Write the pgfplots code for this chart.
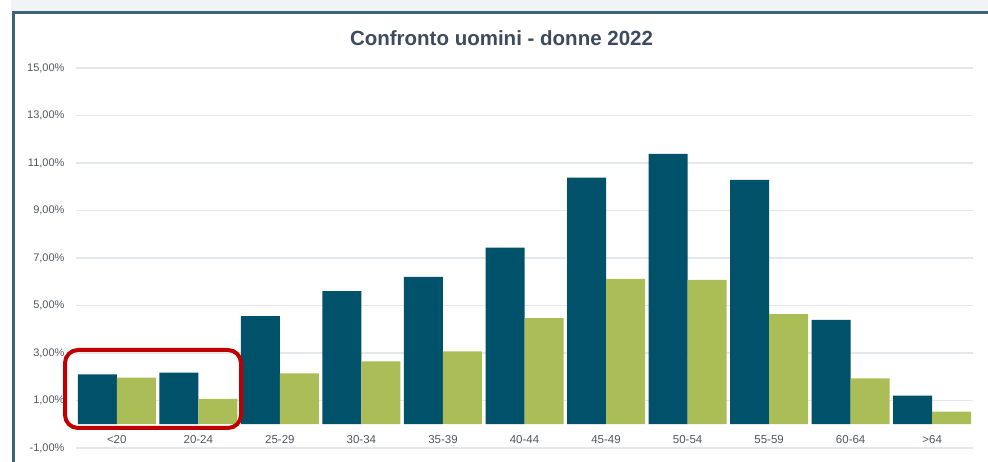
\documentclass[border=0pt]{standalone}
\usepackage{fontspec}
\setmainfont{Liberation Sans}
\usepackage{pgfplots}
\pgfplotsset{compat=1.18}

\definecolor{uomini}{HTML}{00516A}
\definecolor{donne}{HTML}{AABD56}
\definecolor{gridc}{HTML}{E4E7EB}
\definecolor{titlec}{HTML}{3E4A5E}
\definecolor{tickc}{HTML}{52575E}
\definecolor{framec}{HTML}{3B6479}
\definecolor{stripc}{HTML}{F2F3F6}
\definecolor{markc}{HTML}{C00000}

\begin{document}
\begin{tikzpicture}
  \path[use as bounding box] (0,0) rectangle (988pt,462pt);
  % page strip and frame
  \fill[stripc] (11pt,451pt) rectangle (988pt,462pt);
  \draw[framec, line width=3pt] (13.5pt,0pt) -- (13.5pt,449.5pt) -- (988pt,449.5pt);

  \node[font=\bfseries\fontsize{20.5}{24}\selectfont, text=titlec]
    at (501.5pt,424pt) {Confronto uomini - donne 2022};

  \begin{axis}[
      at={(76pt,14pt)}, anchor=south west,
      scale only axis,
      width=897pt, height=380pt,
      xmin=-0.5, xmax=10.5,
      ymin=-1, ymax=15,
      axis line style={draw=none},
      major tick length=0pt,
      ymajorgrids,
      grid style={gridc, line width=1.3pt},
      ytick={-1,1,3,5,7,9,11,13,15},
      yticklabels={{-1,00\%},{1,00\%},{3,00\%},{5,00\%},{7,00\%},{9,00\%},{11,00\%},{13,00\%},{15,00\%}},
      yticklabel style={font=\fontsize{11}{13}\selectfont, text=tickc, xshift=-8pt},
      xtick={0,1,2,3,4,5,6,7,8,9,10},
      xticklabels={{<20},{20-24},{25-29},{30-34},{35-39},{40-44},{45-49},{50-54},{55-59},{60-64},{>64}},
      xticklabel style={font=\fontsize{11.5}{13}\selectfont, text=tickc, anchor=center, yshift=8.5pt},
      ybar=0pt, bar width=39pt,
      clip=false,
    ]
    % uomini
    \addplot[fill=uomini, draw=none] coordinates {
      (0,2.10) (1,2.17) (2,4.55) (3,5.61) (4,6.20) (5,7.44)
      (6,10.38) (7,11.38) (8,10.29) (9,4.39) (10,1.21)
    };
    % donne
    \addplot[fill=donne, draw=none] coordinates {
      (0,1.96) (1,1.07) (2,2.14) (3,2.65) (4,3.07) (5,4.47)
      (6,6.12) (7,6.08) (8,4.64) (9,1.93) (10,0.53)
    };
  \end{axis}

  % highlight box
  \draw[markc, line width=4pt, rounded corners=13pt] (65pt,34pt) rectangle (241pt,112pt);
\end{tikzpicture}
\end{document}
